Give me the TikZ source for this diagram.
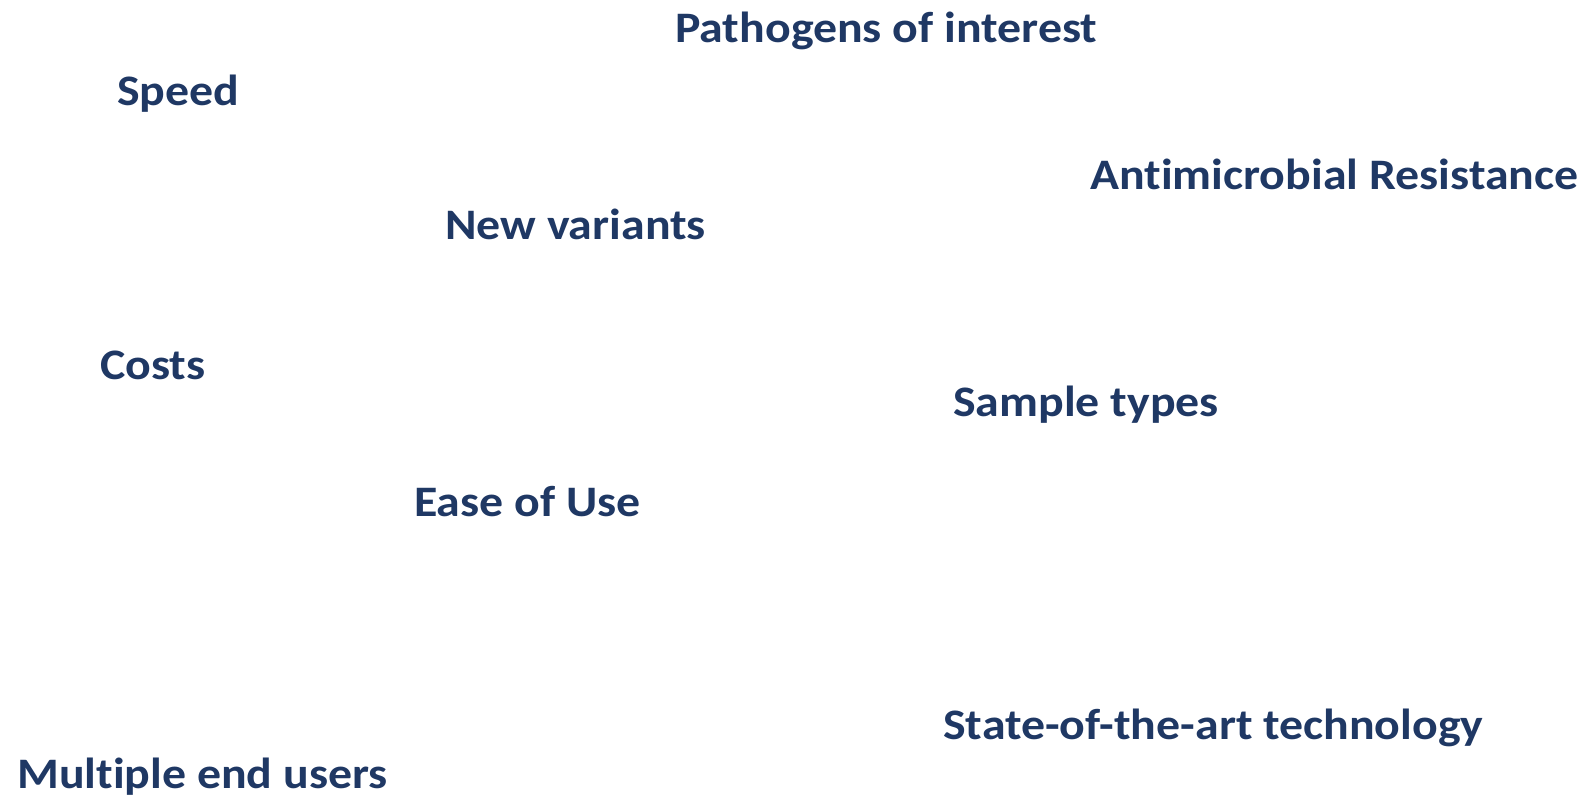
\documentclass[tikz,border=0pt]{standalone}
\usepackage{fontspec}
\setmainfont{Carlito}[FakeStretch=1.1,Ligatures=NoCommon]
\definecolor{txtblue}{HTML}{1F3864}
\begin{document}
\begin{tikzpicture}[x=1pt,y=-1pt,
  lbl/.style={anchor=base west,inner sep=0pt,text=txtblue,font=\fontsize{43.5}{52}\selectfont\bfseries}]
\useasboundingbox (0,0) rectangle (1585,795);
\node[lbl] (pathogens) at (675,42) {Pathogens of interest};
\node[lbl] (speed) at (117,105.6) {Speed};
\node[lbl] (amr) at (1090,189) {Antimicrobial Resistance};
\node[lbl] (variants) at (445,239) {New variants};
\node[lbl] (costs) at (100,379.6) {Costs};
\node[lbl] (sample) at (953,416) {Sample types};
\node[lbl] (ease) at (414,516) {Ease of Use};
\node[lbl] (state) at (943,739.4) {State-of-the-art technology};
\node[lbl] (users) at (17,788) {Multiple end users};
\end{tikzpicture}
\end{document}
